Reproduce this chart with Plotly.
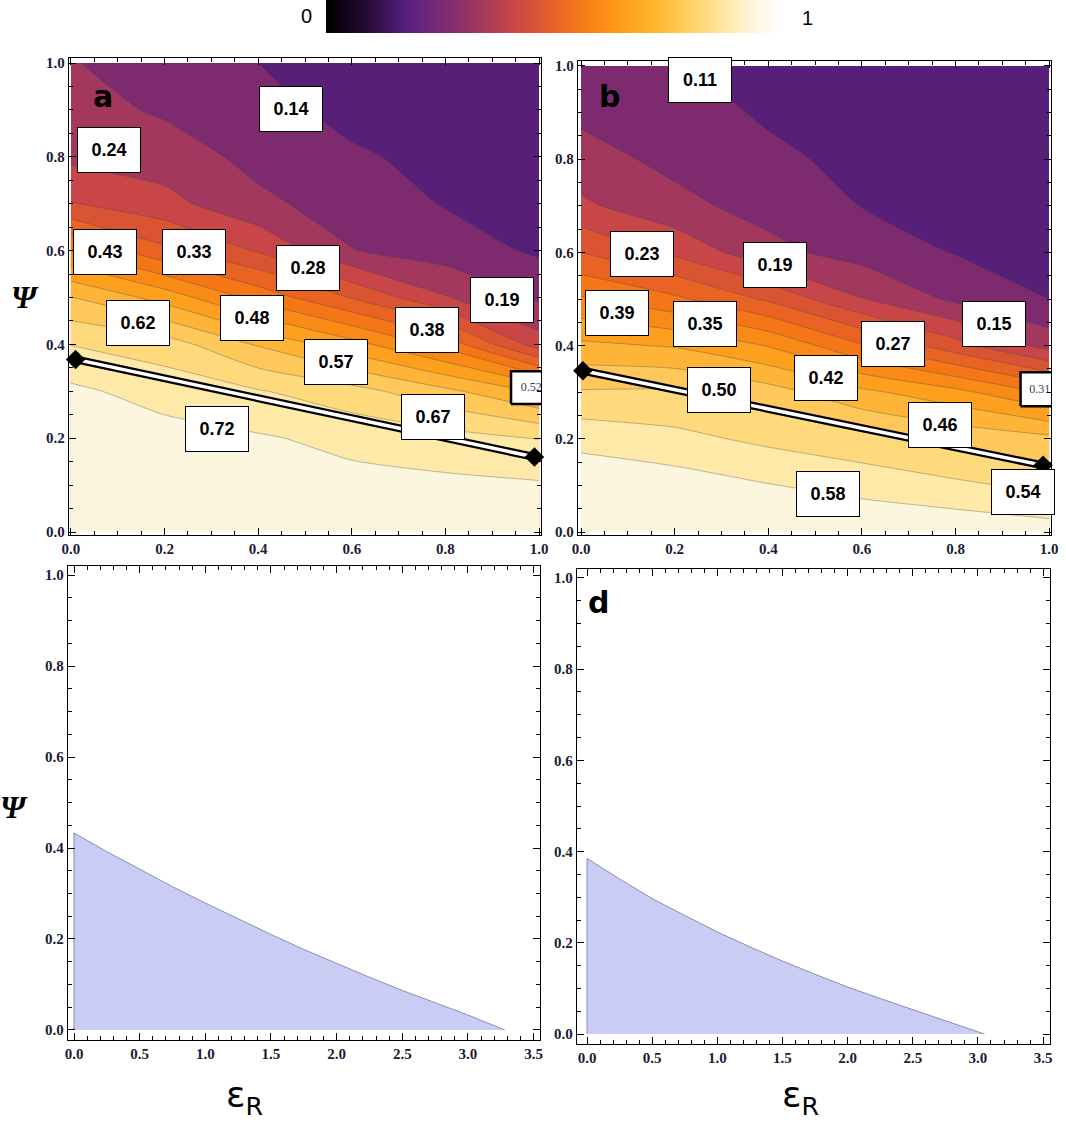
import plotly.graph_objects as go

W, H = 1066, 1124

# ---------------- data ----------------
grid_x = [0.0, 0.2, 0.4, 0.6, 0.8, 1.0]
grid_y = [0.0, 0.1, 0.2, 0.3, 0.4, 0.5, 0.6, 0.7, 0.8, 0.9, 1.0]

# panel a field (rows = grid_y, cols = grid_x)
z_a = [
    [0.800, 0.785, 0.770, 0.755, 0.750, 0.740],
    [0.780, 0.765, 0.750, 0.735, 0.730, 0.725],
    [0.760, 0.740, 0.725, 0.706, 0.691, 0.670],
    [0.730, 0.699, 0.675, 0.642, 0.587, 0.520],
    [0.670, 0.647, 0.570, 0.496, 0.413, 0.260],
    [0.577, 0.507, 0.413, 0.330, 0.240, 0.180],
    [0.430, 0.344, 0.280, 0.190, 0.163, 0.133],
    [0.288, 0.253, 0.198, 0.168, 0.137, 0.120],
    [0.224, 0.211, 0.175, 0.147, 0.125, 0.110],
    [0.206, 0.182, 0.157, 0.125, 0.113, 0.100],
    [0.191, 0.165, 0.140, 0.110, 0.103, 0.095],
]
# panel b field
z_b = [
    [0.630, 0.625, 0.620, 0.615, 0.610, 0.600],
    [0.610, 0.600, 0.582, 0.566, 0.549, 0.531],
    [0.567, 0.552, 0.532, 0.514, 0.491, 0.473],
    [0.506, 0.507, 0.480, 0.433, 0.396, 0.340],
    [0.432, 0.420, 0.382, 0.310, 0.243, 0.173],
    [0.350, 0.314, 0.260, 0.190, 0.141, 0.110],
    [0.266, 0.219, 0.161, 0.133, 0.108, 0.097],
    [0.196, 0.160, 0.135, 0.109, 0.098, 0.090],
    [0.164, 0.139, 0.118, 0.100, 0.090, 0.085],
    [0.141, 0.126, 0.105, 0.092, 0.085, 0.082],
    [0.124, 0.113, 0.095, 0.085, 0.080, 0.080],
]
levels_a_start, levels_a_step = 0.14, 0.0483
levels_b_start, levels_b_step = 0.11, 0.03917

# contour labels
lab_a_text = ["0.14", "0.24", "0.43", "0.33", "0.28", "0.19", "0.62", "0.48", "0.38", "0.57", "0.67", "0.72"]
lab_a_x = [0.471, 0.082, 0.072, 0.264, 0.507, 0.921, 0.144, 0.386, 0.761, 0.567, 0.773, 0.311]
lab_a_y = [0.903, 0.814, 0.596, 0.597, 0.563, 0.494, 0.446, 0.456, 0.430, 0.363, 0.246, 0.220]
lab_b_text = ["0.11", "0.23", "0.19", "0.39", "0.35", "0.27", "0.15", "0.42", "0.50", "0.46", "0.58", "0.54"]
lab_b_x = [0.254, 0.131, 0.414, 0.076, 0.265, 0.666, 0.883, 0.524, 0.295, 0.767, 0.527, 0.945]
lab_b_y = [0.969, 0.596, 0.572, 0.470, 0.447, 0.403, 0.447, 0.331, 0.305, 0.230, 0.082, 0.086]
edge_a = dict(text="0.52", x=0.983, y=0.308, x0=0.94, x1=1.10, y0=0.273, y1=0.343)
edge_b = dict(text="0.31", x=0.980, y=0.305, x0=0.939, x1=1.10, y0=0.270, y1=0.343)

# white path with diamond ends
path_a_x = [0.01, 0.99]
path_a_y = [0.368, 0.160]
path_b_x = [0.004, 0.987]
path_b_y = [0.346, 0.143]

# lower panels: boundary curves
c_eps = [0.0, 0.25, 0.5, 0.75, 1.0, 1.25, 1.5, 1.75, 2.0, 2.25, 2.5, 2.75, 3.0, 3.28]
c_psi = [0.433, 0.392, 0.353, 0.315, 0.279, 0.244, 0.210, 0.177, 0.146, 0.116, 0.087, 0.060, 0.033, 0.0]
d_eps = [0.0, 0.25, 0.5, 0.75, 1.0, 1.25, 1.5, 1.75, 2.0, 2.25, 2.5, 2.75, 3.05]
d_psi = [0.385, 0.340, 0.297, 0.260, 0.224, 0.191, 0.160, 0.131, 0.103, 0.078, 0.053, 0.029, 0.0]

# ---------------- styles ----------------
band_colors = ["#571f77", "#7d2b6e", "#a3385e", "#c84648", "#da5434", "#e96423",
               "#f47616", "#fa8a16", "#fca01e", "#feb437", "#ffc85a", "#ffda7d",
               "#fee9a8", "#fdf6de"]
band_scale = [[k / 13, c] for k, c in enumerate(band_colors)]
sunset_pos = [0, 0.08, 0.18, 0.26, 0.34, 0.42, 0.5, 0.56, 0.64, 0.72, 0.8, 0.88, 0.94, 1.0]
sunset_col = ["#000000", "#22092f", "#5a2182", "#7e2b72", "#a3385e", "#cc4844", "#e8602a",
              "#f57a14", "#fd9a1a", "#ffb62e", "#ffd266", "#ffe9a8", "#fff6e2", "#ffffff"]
sunset = [[p, c] for p, c in zip(sunset_pos, sunset_col)]

tick_font = dict(family="Liberation Serif", size=15, color="#1b1b35", weight="bold")

fig = go.Figure()


def add_contour(z, start, step, xa, ya):
    fig.add_trace(go.Contour(
        x=grid_x, y=grid_y, z=z, xaxis=xa, yaxis=ya, autocontour=False,
        contours=dict(start=start, end=start + 12 * step, size=step, coloring="fill", showlines=True),
        colorscale=band_scale, showscale=False,
        line=dict(color="rgba(70,70,70,0.35)", width=1, smoothing=0.6),
        hoverinfo="skip"))


add_contour(z_a, levels_a_start, levels_a_step, "x", "y")
add_contour(z_b, levels_b_start, levels_b_step, "x2", "y2")

for px, py, xa, ya in [(path_a_x, path_a_y, "x", "y"), (path_b_x, path_b_y, "x2", "y2")]:
    fig.add_trace(go.Scatter(x=px, y=py, xaxis=xa, yaxis=ya, mode="lines",
                             line=dict(color="black", width=8), hoverinfo="skip"))
    fig.add_trace(go.Scatter(x=px, y=py, xaxis=xa, yaxis=ya, mode="lines",
                             line=dict(color="white", width=3.5), hoverinfo="skip"))
    fig.add_trace(go.Scatter(x=px, y=py, xaxis=xa, yaxis=ya, mode="markers", cliponaxis=False,
                             marker=dict(symbol="diamond", size=15, color="black"), hoverinfo="skip"))

# edge (clipped) labels
for e, xa, ya in [(edge_a, "x", "y"), (edge_b, "x2", "y2")]:
    fig.add_trace(go.Scatter(x=[e["x0"], e["x1"], e["x1"], e["x0"], e["x0"]],
                             y=[e["y0"], e["y0"], e["y1"], e["y1"], e["y0"]],
                             xaxis=xa, yaxis=ya, mode="lines", fill="toself", fillcolor="white",
                             line=dict(color="black", width=2.5), hoverinfo="skip"))
    fig.add_trace(go.Scatter(x=[e["x"]], y=[e["y"]], xaxis=xa, yaxis=ya, mode="text",
                             text=[e["text"]], cliponaxis=True,
                             textfont=dict(family="Liberation Serif", size=12, color="#3a3a60"),
                             hoverinfo="skip"))

# lower panels
for ex, py, xa, ya in [(c_eps, c_psi, "x3", "y3"), (d_eps, d_psi, "x4", "y4")]:
    fig.add_trace(go.Scatter(x=[0.0] + ex, y=[0.0] + py, xaxis=xa, yaxis=ya, mode="lines",
                             fill="toself", fillcolor="#c9cdf3",
                             line=dict(color="#8a8eae", width=1), hoverinfo="skip"))

# colorbar carrier
fig.add_trace(go.Scatter(
    x=[-10], y=[-10], xaxis="x", yaxis="y", mode="markers", hoverinfo="skip",
    marker=dict(color=[0.5], cmin=0, cmax=1, colorscale=sunset, size=1, showscale=True,
                colorbar=dict(orientation="h", x=554 / W, xanchor="center", y=1.0, yanchor="top",
                              len=456, lenmode="pixels", thickness=33, thicknessmode="pixels",
                              outlinewidth=0, showticklabels=False, ticks="", xpad=0, ypad=0))))


def ax(px0, px1, rng, dtick, mdtick, anchor, horizontal):
    if horizontal:
        dom = [px0 / W, px1 / W]
    else:
        dom = [1 - px1 / H, 1 - px0 / H]
    return dict(domain=dom, range=rng, anchor=anchor, dtick=dtick, tick0=0, tickformat=".1f",
                ticks="inside", ticklen=7, tickwidth=1.2, tickcolor="black", mirror="allticks",
                showline=True, linecolor="black", linewidth=1.4, showgrid=False, zeroline=False,
                tickfont=tick_font, fixedrange=True,
                minor=dict(ticks="inside", ticklen=4, tickwidth=1, tickcolor="black",
                           dtick=mdtick, tick0=0, showgrid=False))


fig.update_layout(
    width=W, height=H, margin=dict(l=0, r=0, t=0, b=0, autoexpand=False),
    paper_bgcolor="white", plot_bgcolor="white", showlegend=False,
    xaxis=ax(69, 541, [-0.004, 1.004], 0.2, 0.05, "y", True),
    yaxis=ax(58, 535, [-0.0064, 1.0107], 0.2, 0.05, "x", False),
    xaxis2=ax(578, 1051, [-0.0064, 1.004], 0.2, 0.05, "y2", True),
    yaxis2=ax(61, 535, [-0.0064, 1.0107], 0.2, 0.05, "x2", False),
    xaxis3=ax(68, 540, [-0.0457, 3.549], 0.5, 0.1, "y3", True),
    yaxis3=ax(566, 1040, [-0.022, 1.0198], 0.2, 0.05, "x3", False),
    xaxis4=ax(577, 1050, [-0.0767, 3.553], 0.5, 0.1, "y4", True),
    yaxis4=ax(569, 1044, [-0.0219, 1.0197], 0.2, 0.05, "x4", False),
)

ann = []
lab_font = dict(family="Liberation Sans", size=18, color="black", weight="bold")
for texts, xs, ys, xr, yr in [(lab_a_text, lab_a_x, lab_a_y, "x", "y"),
                              (lab_b_text, lab_b_x, lab_b_y, "x2", "y2")]:
    for t, x, y in zip(texts, xs, ys):
        ann.append(dict(text=t, x=x, y=y, xref=xr, yref=yr, showarrow=False, font=lab_font,
                        bgcolor="white", bordercolor="black", borderwidth=1, borderpad=2,
                        width=58, height=40))

letter_font = dict(family="DejaVu Sans", size=30, color="black", weight="bold")
for t, px, py in [("a", 103, 97), ("b", 609, 97), ("d", 598, 602)]:
    ann.append(dict(text=t, x=px / W, y=1 - py / H, xref="paper", yref="paper", showarrow=False,
                    font=letter_font, xanchor="center", yanchor="middle"))

psi_font = dict(family="Liberation Serif", size=32, color="black", weight="bold")
for px, py in [(25, 297), (14, 807)]:
    ann.append(dict(text="<i>Ψ</i>", x=px / W, y=1 - py / H, xref="paper", yref="paper",
                    showarrow=False, font=psi_font, xanchor="center", yanchor="middle"))

eps_font = dict(family="DejaVu Sans", size=36, color="black")
for px, py in [(245, 1097), (800, 1097)]:
    ann.append(dict(text="ε<sub>R</sub>", x=px / W, y=1 - py / H, xref="paper", yref="paper",
                    showarrow=False, font=eps_font, xanchor="center", yanchor="middle"))

cb_font = dict(family="Liberation Sans", size=20, color="black")
for t, px, py in [("0", 306, 16), ("1", 807, 18)]:
    ann.append(dict(text=t, x=px / W, y=1 - py / H, xref="paper", yref="paper",
                    showarrow=False, font=cb_font, xanchor="center", yanchor="middle"))

fig.update_layout(annotations=ann)
fig.write_html("out.html")
